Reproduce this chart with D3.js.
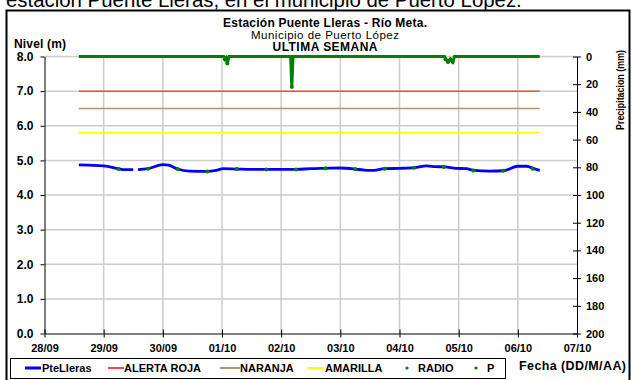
<!DOCTYPE html>
<html>
<head>
<meta charset="utf-8">
<script src="https://cdn.jsdelivr.net/npm/d3@7"></script>
<style>
  html, body { margin: 0; padding: 0; background: #fff; }
  svg { display: block; font-family: "Liberation Sans", Arial, sans-serif; }
</style>
</head>
<body>
<svg id="chart" width="632" height="380"></svg>
<script>
// Day labels on the time axis (days counted from 28/09 00:00)
const dayLabels = ["28/09", "29/09", "30/09", "01/10", "02/10", "03/10", "04/10", "05/10", "06/10", "07/10"];

// River level, station Puente Lleras (m); null marks a gap in the record
const levelDays = [0.58, 0.75, 1.00, 1.25, 1.35, 1.50, 1.54, 1.58, 1.75, 2.00, 2.10, 2.25, 2.45, 2.75, 2.90, 3.02,
  3.25, 3.50, 3.75, 4.00, 4.25, 4.50, 4.75, 5.00, 5.25, 5.40, 5.53, 5.75, 6.00, 6.25, 6.46, 6.60, 6.77, 6.95,
  7.13, 7.26, 7.53, 7.76, 8.00, 8.15, 8.27, 8.37];
const levelValues = [4.87, 4.86, 4.84, 4.76, 4.73, 4.73, null, 4.73, 4.76, 4.88, 4.86, 4.75, 4.69, 4.68, 4.71, 4.76,
  4.75, 4.74, 4.74, 4.74, 4.74, 4.76, 4.77, 4.78, 4.75, 4.72, 4.71, 4.76, 4.77, 4.79, 4.84, 4.82, 4.81, 4.77,
  4.76, 4.71, 4.69, 4.70, 4.83, 4.83, 4.76, 4.71];

// Radio-reported readings (m)
const radioDays = [1.25, 1.75, 2.25, 2.75, 3.25, 3.75, 4.25, 4.75, 5.25, 5.75, 6.25, 6.75, 7.25, 7.75, 8.25];
const radioValues = [4.75, 4.76, 4.75, 4.68, 4.75, 4.74, 4.74, 4.77, 4.75, 4.76, 4.79, 4.81, 4.71, 4.70, 4.76];

// Precipitation (mm)
const precipDays = [0.58, 3.03, 3.05, 3.07, 3.09, 3.12, 4.16, 4.18, 4.20, 6.76, 6.78, 6.82, 6.86, 6.90, 6.93, 8.37];
const precipValues = [0, 0, 2, 1, 5, 0, 0, 22, 0, 0, 2, 4, 2, 4, 0, 0];

// Alert thresholds (m)
const alertRed = 7.0;
const alertOrange = 6.5;
const alertYellow = 5.8;
const seriesStart = 0.58, seriesEnd = 8.37;

const levelTicks = [0, 1, 2, 3, 4, 5, 6, 7, 8];
const precipTicks = [0, 20, 40, 60, 80, 100, 120, 140, 160, 180, 200];

const svg = d3.select("#chart");
const FONT = "\"Liberation Sans\", Arial, sans-serif";

const x = d3.scaleLinear().domain([0, 9]).range([44.5, 577]);
const y = d3.scaleLinear().domain([0, 8]).range([333.5, 56.5]);
const y2 = d3.scaleLinear().domain([0, 200]).range([56.5, 333.5]);

// Heading line above the chart frame (only its lower part falls inside the page)
svg.append("text").attr("x", 6).attr("y", 7)
  .attr("font-size", 20.4).attr("fill", "#000")
  .text("estación Puente Lleras, en el municipio de Puerto López.");

// Chart frame
svg.append("rect").attr("x", 6.5).attr("y", 10.5).attr("width", 623).attr("height", 390)
  .attr("fill", "#fff").attr("stroke", "#000").attr("stroke-width", 2);

// Titles
const tx = 325;
svg.append("text").attr("x", tx).attr("y", 27).attr("text-anchor", "middle")
  .attr("font-size", 12).attr("font-weight", "bold")
  .attr("textLength", 204).attr("lengthAdjust", "spacing")
  .text("Estación Puente Lleras - Río Meta.");
svg.append("text").attr("x", tx).attr("y", 39).attr("text-anchor", "middle")
  .attr("font-size", 11.5).attr("textLength", 148).attr("lengthAdjust", "spacing")
  .text("Municipio de Puerto López");
svg.append("text").attr("x", tx).attr("y", 51).attr("text-anchor", "middle")
  .attr("font-size", 12).attr("font-weight", "bold").attr("textLength", 105).attr("lengthAdjust", "spacing")
  .text("ULTIMA SEMANA");
svg.append("text").attr("x", 14).attr("y", 47.5)
  .attr("font-size", 12).attr("font-weight", "bold").attr("textLength", 52).attr("lengthAdjust", "spacing")
  .text("Nivel (m)");

// Gridlines
const grid = svg.append("g").attr("stroke", "#cccccc").attr("stroke-width", 1.5);
grid.selectAll("line.h").data(levelTicks.filter(d => d > 0)).join("line")
  .attr("x1", x(0)).attr("x2", x(9)).attr("y1", d => y(d)).attr("y2", d => y(d));
grid.selectAll("line.v").data(d3.range(1, 9)).join("line")
  .attr("x1", d => x(d)).attr("x2", d => x(d)).attr("y1", y(8)).attr("y2", y(0));

// Axes
const leftAxis = svg.append("g").attr("transform", `translate(${x(0)},0)`)
  .call(d3.axisLeft(y).tickValues(levelTicks).tickFormat(d3.format(".1f")).tickSizeInner(4).tickSizeOuter(0).tickPadding(7));
const rightAxis = svg.append("g").attr("transform", `translate(${x(9)},0)`)
  .call(d3.axisRight(y2).tickValues(precipTicks).tickSizeInner(4).tickSizeOuter(0).tickPadding(5));
rightAxis.selectAll(".tick line").attr("x1", -4);
const bottomAxis = svg.append("g").attr("transform", `translate(0,${y(0)})`)
  .call(d3.axisBottom(x).tickValues(d3.range(0, 10)).tickFormat(i => dayLabels[i]).tickSizeInner(4).tickSizeOuter(0).tickPadding(7));
bottomAxis.selectAll(".tick line").attr("y1", -4);
[leftAxis, rightAxis, bottomAxis].forEach(a => {
  a.selectAll("text").attr("font-size", 11).attr("font-weight", "bold").attr("font-family", FONT).attr("fill", "#000");
  a.selectAll("line, path").attr("stroke", "#000").attr("stroke-width", 1);
});
leftAxis.selectAll("text").attr("font-size", 12);

// Right axis title
svg.append("text").attr("transform", `translate(623.5,90) rotate(-90)`).attr("text-anchor", "middle")
  .attr("font-size", 10.5).attr("font-weight", "bold").attr("textLength", 80).attr("lengthAdjust", "spacingAndGlyphs")
  .text("Precipitacion (mm)");

// Threshold lines
const thresholds = [
  { v: alertYellow, c: "#ffff00" },
  { v: alertOrange, c: "#b8926c" },
  { v: alertRed, c: "#f24a4a" }
];
svg.append("g").selectAll("line").data(thresholds).join("line")
  .attr("x1", x(seriesStart)).attr("x2", x(seriesEnd))
  .attr("y1", d => y(d.v)).attr("y2", d => y(d.v))
  .attr("stroke", d => d.c).attr("stroke-width", 1.5);

// Level line
const levelData = levelDays.map((d, i) => ({ t: d, v: levelValues[i] }));
svg.append("path").datum(levelData)
  .attr("d", d3.line().defined(d => d.v != null).x(d => x(d.t)).y(d => y(d.v)).curve(d3.curveMonotoneX))
  .attr("fill", "none").attr("stroke", "#0000ff").attr("stroke-width", 2.8);

// Radio readings
svg.append("g").selectAll("circle").data(radioDays.map((d, i) => ({ t: d, v: radioValues[i] }))).join("circle")
  .attr("cx", d => x(d.t)).attr("cy", d => y(d.v)).attr("r", 2).attr("fill", "#008000");

// Precipitation
const precipData = precipDays.map((d, i) => ({ t: d, v: precipValues[i] }));
svg.append("path").datum(precipData)
  .attr("d", d3.line().x(d => x(d.t)).y(d => y2(d.v)))
  .attr("fill", "none").attr("stroke", "#008000").attr("stroke-width", 3);
svg.append("g").selectAll("circle").data(precipData.filter(d => d.v > 0)).join("circle")
  .attr("cx", d => x(d.t)).attr("cy", d => y2(d.v)).attr("r", 2).attr("fill", "#008000");

// Legend
const lg = svg.append("g");
lg.append("rect").attr("x", 10.5).attr("y", 358.5).attr("width", 495).attr("height", 20)
  .attr("fill", "#fff").attr("stroke", "#000").attr("stroke-width", 1);
const legendItems = [
  { name: "PteLleras", type: "line", c: "#0000ff", w: 3, x0: 25, x1: 41, tx: 42 },
  { name: "ALERTA ROJA", type: "line", c: "#f24a4a", w: 2, x0: 108, x1: 124, tx: 124 },
  { name: "NARANJA", type: "line", c: "#b8926c", w: 2, x0: 220, x1: 240, tx: 240 },
  { name: "AMARILLA", type: "line", c: "#ffff00", w: 2, x0: 307, x1: 324, tx: 325 },
  { name: "RADIO", type: "dot", c: "#008000", cx: 407, tx: 418 },
  { name: "P", type: "dot", c: "#008000", cx: 476, tx: 487 }
];
legendItems.forEach(it => {
  if (it.type === "line") {
    lg.append("line").attr("x1", it.x0).attr("x2", it.x1).attr("y1", 368).attr("y2", 368)
      .attr("stroke", it.c).attr("stroke-width", it.w);
  } else {
    lg.append("circle").attr("cx", it.cx).attr("cy", 368).attr("r", 1.6).attr("fill", it.c);
  }
  lg.append("text").attr("x", it.tx).attr("y", 372).attr("font-size", 11).attr("font-weight", "bold").text(it.name);
});

svg.append("text").attr("x", 519).attr("y", 370).attr("font-size", 12.5).attr("font-weight", "bold")
  .attr("textLength", 107).attr("lengthAdjust", "spacing")
  .text("Fecha (DD/M/AA)");
</script>
</body>
</html>
